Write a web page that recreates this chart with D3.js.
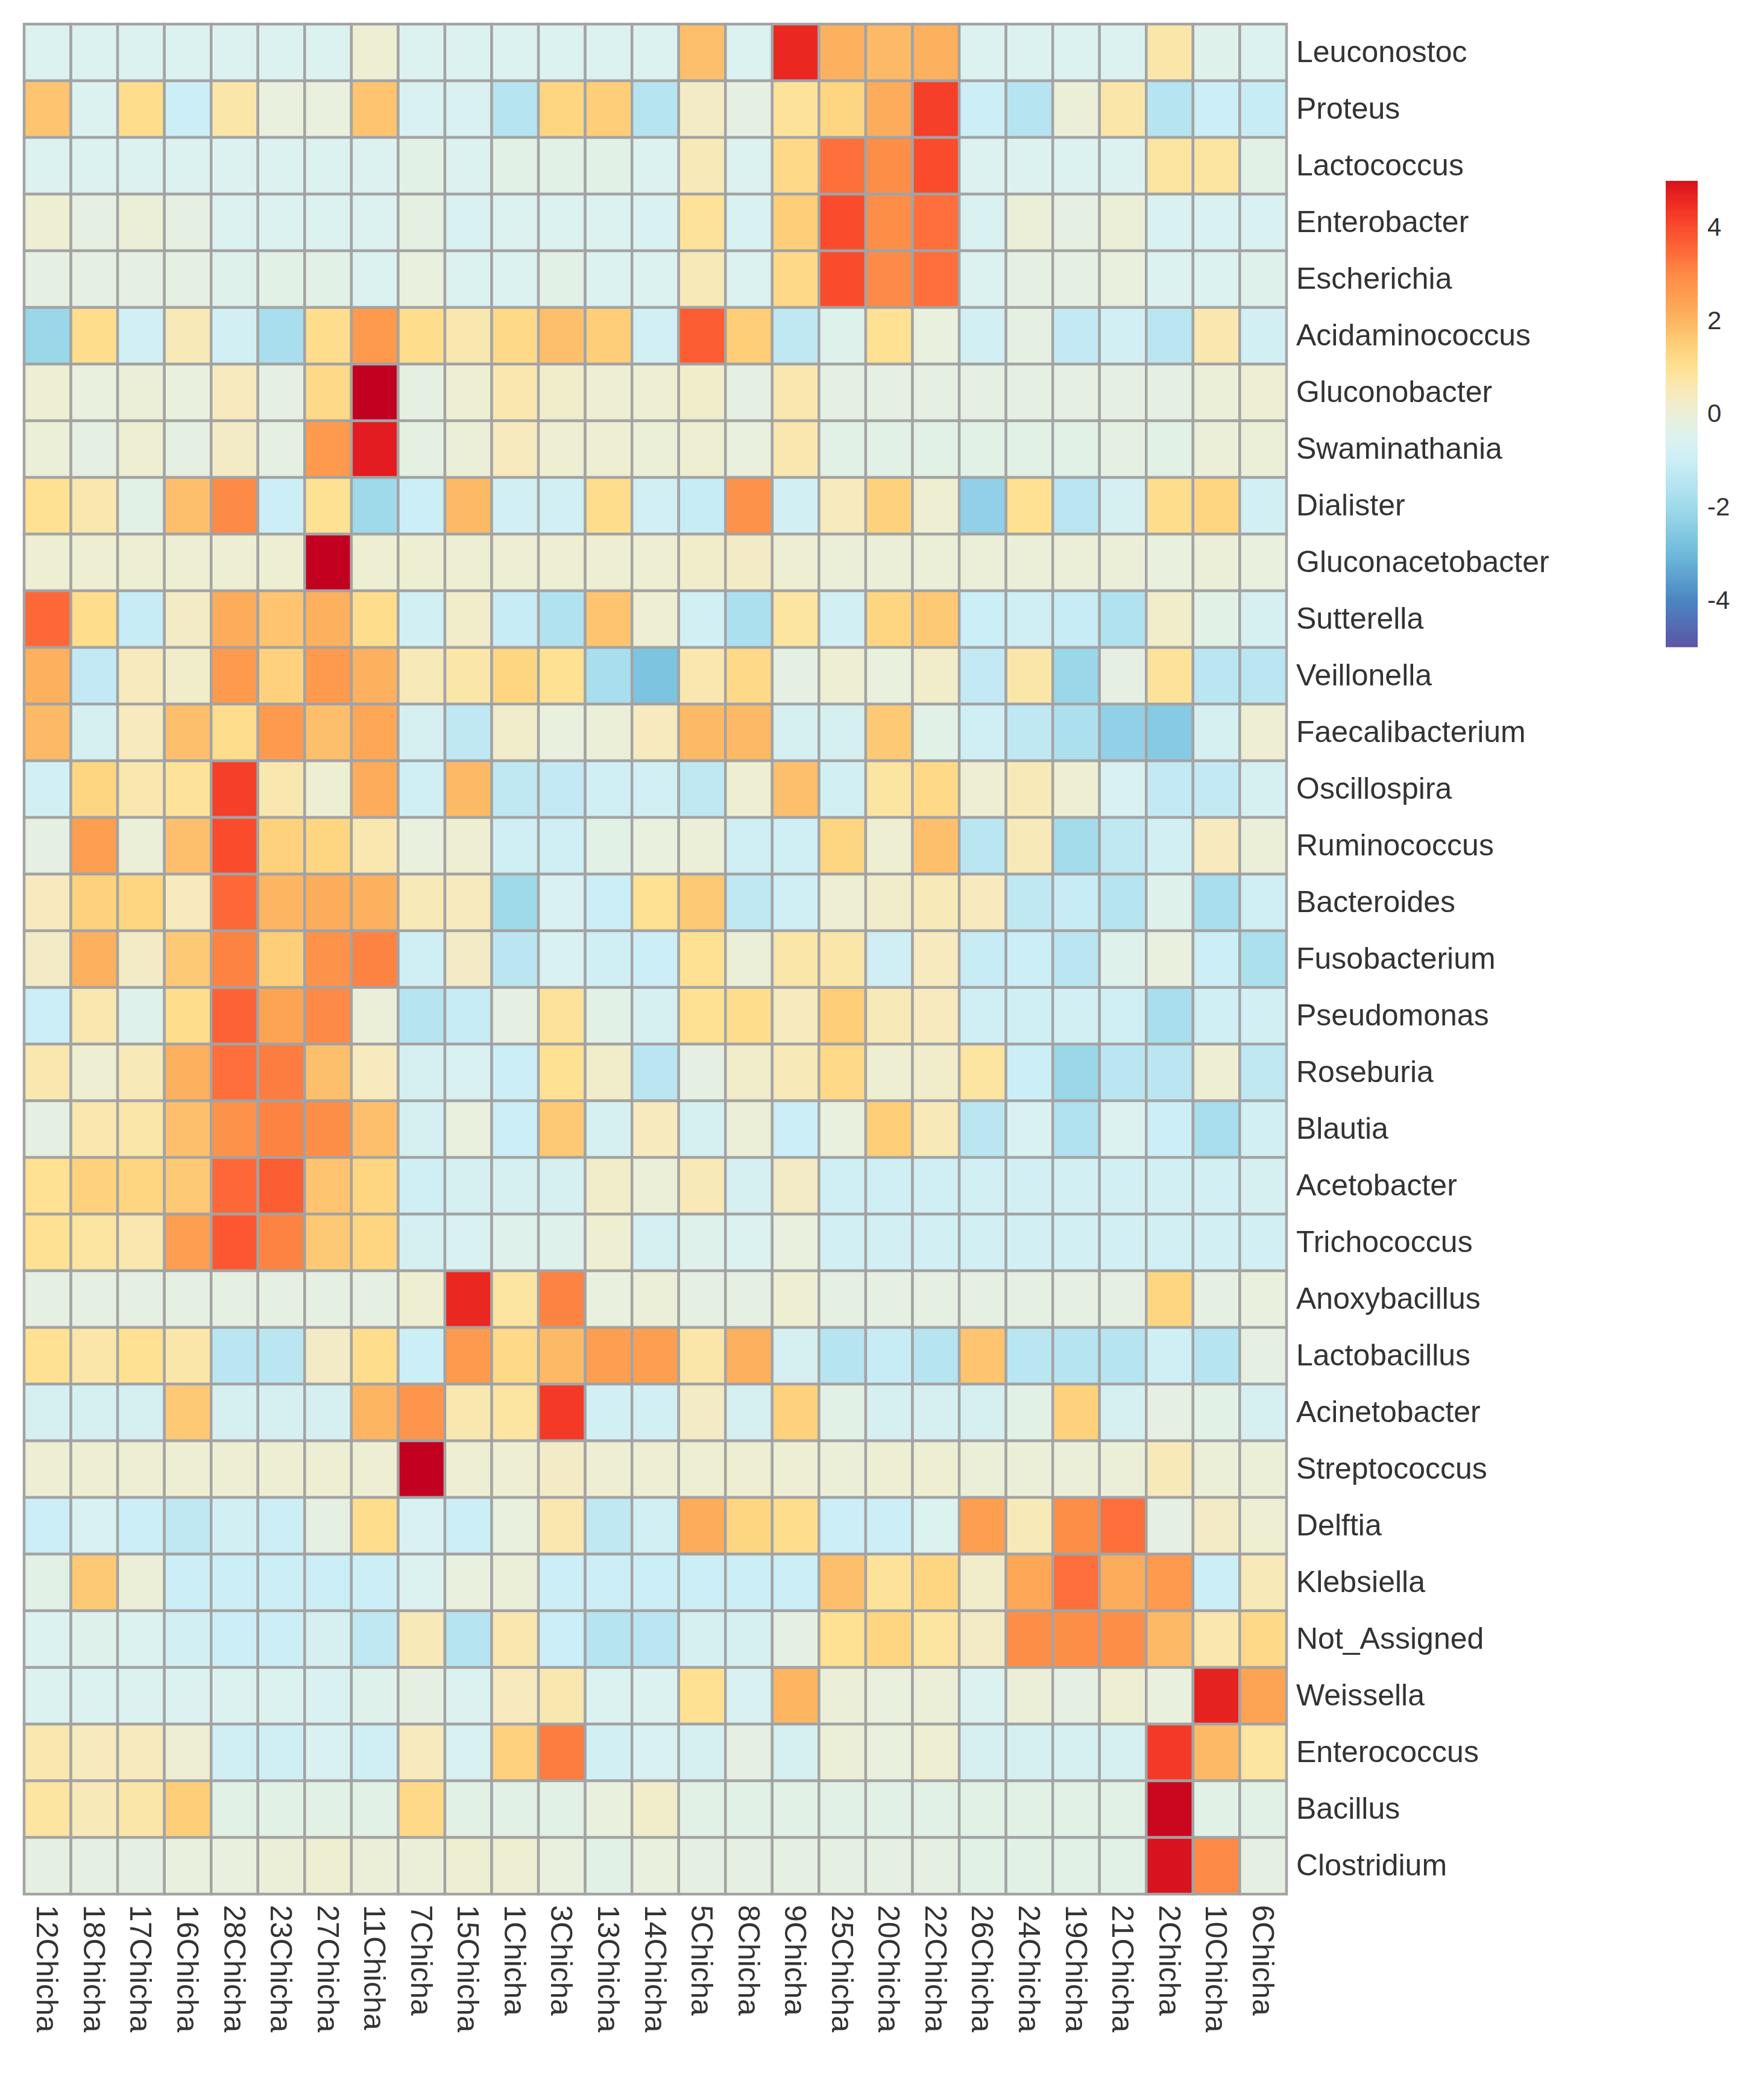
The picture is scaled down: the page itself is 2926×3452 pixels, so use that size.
<!DOCTYPE html>
<html>
<head>
<meta charset="utf-8">
<script src="https://cdn.jsdelivr.net/npm/d3@7"></script>
<style>
  body { margin: 0; background: #fff; }
  text { font-family: "Liberation Sans", Arial, sans-serif; fill: #333; }
</style>
</head>
<body>
<div id="vis"></div>
<script>
// column order (clustered samples)
const samples = ["12Chicha","18Chicha","17Chicha","16Chicha","28Chicha","23Chicha","27Chicha","11Chicha","7Chicha","15Chicha","1Chicha","3Chicha","13Chicha","14Chicha","5Chicha","8Chicha","9Chicha","25Chicha","20Chicha","22Chicha","26Chicha","24Chicha","19Chicha","21Chicha","2Chicha","10Chicha","6Chicha"];

// row order (clustered genera)
const taxa = ["Leuconostoc","Proteus","Lactococcus","Enterobacter","Escherichia","Acidaminococcus","Gluconobacter","Swaminathania","Dialister","Gluconacetobacter","Sutterella","Veillonella","Faecalibacterium","Oscillospira","Ruminococcus","Bacteroides","Fusobacterium","Pseudomonas","Roseburia","Blautia","Acetobacter","Trichococcus","Anoxybacillus","Lactobacillus","Acinetobacter","Streptococcus","Delftia","Klebsiella","Not_Assigned","Weissella","Enterococcus","Bacillus","Clostridium"];

// scaled abundance, one row per genus, in sample order
const values = [
  [-0.5,-0.5,-0.5,-0.5,-0.5,-0.5,-0.5,0.1,-0.5,-0.5,-0.5,-0.5,-0.5,-0.5, 1.8,-0.5,4.6,2.1,1.9,2.1,-0.5,-0.5,-0.5,-0.5,0.7,-0.4,-0.5],
  [1.7,-0.5,1.1,-1.0,0.7,-0.1,-0.1,1.7,-0.6,-0.6,-1.5,1.3,1.5,-1.5, 0.3,-0.2,0.9,1.3,2.2,4.2,-1.0,-1.5,0.0,0.7,-1.5,-1.0,-1.1],
  [-0.5,-0.5,-0.5,-0.5,-0.5,-0.5,-0.5,-0.5,-0.3,-0.5,-0.3,-0.3,-0.3,-0.5, 0.5,-0.5,1.2,3.4,2.9,4.0,-0.5,-0.5,-0.5,-0.5,0.8,0.8,-0.3],
  [0.1,-0.2,0.0,-0.2,-0.5,-0.5,-0.5,-0.5,-0.2,-0.6,-0.5,-0.5,-0.5,-0.6, 0.9,-0.6,1.5,4.0,2.9,3.4,-0.6,0.0,-0.2,0.0,-0.6,-0.6,-0.6],
  [-0.2,-0.2,-0.2,-0.2,-0.4,-0.3,-0.3,-0.5,-0.1,-0.5,-0.5,-0.3,-0.5,-0.5, 0.5,-0.5,1.2,4.0,3.0,3.4,-0.5,-0.2,-0.2,-0.1,-0.5,-0.5,-0.4],
  [-2.1,1.1,-0.8,0.5,-0.8,-1.8,1.1,2.6,1.1,0.6,1.2,1.8,1.5,-0.8, 3.7,1.5,-1.3,-0.4,1.0,-0.1,-0.8,-0.2,-1.2,-0.8,-1.4,0.6,-0.8],
  [0.1,-0.1,0.0,-0.1,0.4,-0.2,1.2,5.5,-0.2,0.1,0.6,0.2,0.1,0.1, 0.2,-0.2,0.6,-0.2,-0.2,-0.2,-0.2,-0.2,-0.2,-0.2,-0.2,0.0,0.1],
  [0.0,-0.2,0.1,-0.2,0.3,-0.2,2.6,4.8,-0.2,0.0,0.4,0.1,0.1,0.0, 0.1,-0.1,0.6,-0.3,-0.3,-0.3,-0.3,-0.3,-0.3,-0.2,-0.3,0.0,0.0],
  [1.0,0.6,-0.3,1.8,3.0,-1.0,1.0,-2.0,-1.0,1.9,-0.8,-0.8,1.1,-0.8, -1.1,2.8,-0.8,0.4,1.4,0.1,-2.3,1.0,-1.4,-0.7,1.1,1.3,-0.8],
  [0.1,0.1,0.1,0.1,0.1,0.1,5.5,0.1,0.1,0.1,0.1,0.1,0.1,0.1, 0.2,0.3,0.1,0.0,0.0,0.0,0.0,0.0,0.0,0.0,-0.1,0.0,-0.1],
  [3.5,1.1,-1.1,0.3,2.2,1.7,2.1,1.1,-0.8,0.2,-1.1,-1.6,1.7,0.1, -0.8,-1.7,0.8,-0.8,1.3,1.6,-1.0,-0.9,-1.1,-1.6,0.2,-0.3,-0.7],
  [2.1,-1.2,0.4,0.2,2.6,1.4,2.6,2.1,0.5,0.7,1.3,1.0,-1.8,-2.7, 0.6,1.2,-0.2,0.1,-0.1,0.2,-1.2,0.7,-2.1,-0.2,0.9,-1.4,-1.4],
  [1.9,-0.7,0.4,1.8,1.1,2.6,1.8,2.3,-0.7,-1.3,0.2,-0.1,0.0,0.4, 1.9,1.9,-0.7,-0.7,1.6,-0.3,-0.9,-1.3,-1.7,-2.3,-2.5,-0.7,0.1],
  [-0.8,1.3,0.6,0.9,4.2,0.6,0.1,2.2,-0.9,1.9,-1.3,-1.2,-0.9,-0.8, -1.3,0.1,1.8,-0.8,0.8,1.2,0.1,0.5,0.1,-0.6,-1.2,-1.2,-0.7],
  [-0.2,2.5,0.0,1.8,4.0,1.4,1.3,0.6,-0.1,0.1,-0.9,-0.9,-0.3,-0.1, 0.0,-0.9,-0.9,1.3,0.1,1.8,-1.4,0.5,-1.9,-1.3,-0.8,0.4,0.0],
  [0.4,1.4,1.3,0.4,3.5,2.0,2.2,2.1,0.5,0.4,-2.0,-0.6,-1.0,1.0, 1.6,-1.3,-0.9,0.1,0.2,0.5,0.4,-1.3,-1.1,-1.5,-0.4,-1.8,-0.9],
  [0.3,2.1,0.3,1.6,3.1,1.5,2.8,3.1,-0.9,0.3,-1.4,-0.6,-0.9,-1.0, 1.0,0.0,0.7,0.7,-0.9,0.4,-1.1,-1.0,-1.4,-0.4,-0.1,-1.0,-1.7],
  [-1.0,0.6,-0.4,1.1,3.6,2.4,3.0,0.0,-1.5,-1.1,-0.2,0.9,-0.3,-0.7, 1.0,1.1,0.4,1.5,0.5,0.4,-0.9,-0.9,-0.8,-0.9,-1.8,-0.9,-0.8],
  [0.6,0.1,0.5,2.1,3.4,3.2,1.8,0.4,-0.7,-0.6,-1.0,1.0,0.2,-1.4, -0.2,0.2,0.5,1.2,0.1,0.2,0.8,-1.0,-2.1,-1.4,-1.4,0.1,-1.3],
  [-0.2,0.6,0.7,1.8,2.8,3.1,2.9,1.8,-0.7,-0.1,-1.0,1.6,-0.7,0.4, -0.7,0.0,-1.0,-0.1,1.5,0.5,-1.4,-0.6,-1.6,-0.5,-1.0,-1.8,-0.8],
  [1.0,1.4,1.3,1.6,3.5,3.7,1.7,1.3,-0.9,-0.7,-0.7,-0.7,0.2,0.0, 0.5,-0.7,0.3,-0.9,-0.9,-0.9,-0.8,-0.8,-0.8,-0.8,-0.8,-0.8,-0.7],
  [1.0,0.8,0.6,2.5,3.8,3.1,1.6,1.3,-0.7,-0.6,-0.4,-0.4,0.1,-0.7, -0.4,-0.5,-0.1,-0.8,-0.8,-0.8,-0.8,-0.8,-0.8,-0.8,-0.8,-0.8,-0.8],
  [-0.2,-0.2,-0.2,-0.2,-0.2,-0.2,-0.2,-0.2,0.1,4.6,0.8,3.1,-0.1,0.0, -0.2,-0.2,0.1,-0.2,-0.2,-0.2,-0.2,-0.2,-0.2,-0.2,1.3,-0.2,-0.1],
  [1.0,0.7,1.0,0.7,-1.4,-1.4,0.3,1.1,-1.0,2.6,1.2,1.9,2.5,2.5, 0.7,2.1,-0.7,-1.5,-1.1,-1.5,1.7,-1.4,-1.5,-1.5,-0.9,-1.5,-0.2],
  [-0.7,-0.7,-0.7,1.6,-0.7,-0.7,-0.7,2.0,2.7,0.6,0.8,4.3,-0.8,-0.8, 0.3,-0.7,1.4,-0.3,-0.7,-0.7,-0.7,-0.3,1.4,-0.7,-0.2,-0.3,-0.7],
  [0.1,0.1,0.1,0.1,0.1,0.1,0.1,0.1,5.5,0.1,0.1,0.3,0.1,0.1, 0.1,0.1,0.1,0.0,0.1,0.1,0.0,0.0,0.0,0.0,0.5,0.0,0.0],
  [-1.0,-0.6,-1.0,-1.3,-0.8,-1.0,-0.2,1.1,-0.6,-1.0,-0.1,0.6,-1.3,-0.8, 2.2,1.3,1.1,-1.0,-1.0,-0.5,2.5,0.5,2.9,3.4,-0.2,0.3,0.1],
  [-0.3,1.6,0.0,-1.0,-1.0,-1.0,-1.0,-1.0,-0.5,-0.1,0.0,-1.0,-1.0,-1.0, -1.0,-1.0,-1.0,1.8,0.9,1.3,0.2,2.3,3.4,2.2,2.6,-1.0,0.5],
  [-0.5,-0.4,-0.5,-0.8,-1.0,-1.0,-0.7,-1.3,0.5,-1.5,0.6,-1.0,-1.5,-1.4, -0.7,-0.7,-0.2,1.0,1.3,0.8,0.3,2.9,2.9,2.9,1.9,0.6,1.2],
  [-0.5,-0.5,-0.5,-0.5,-0.5,-0.5,-0.6,-0.4,-0.2,-0.5,0.4,0.6,-0.5,-0.5, 1.0,-0.6,2.0,0.0,-0.1,0.0,-0.5,0.0,-0.2,0.1,-0.1,4.7,2.4],
  [0.6,0.4,0.4,0.1,-0.9,-0.9,-0.6,-0.9,0.4,-0.6,1.4,3.2,-0.8,-0.6, -0.7,-0.2,-0.7,0.0,-0.1,0.1,-0.7,-0.7,-0.7,-0.7,4.3,1.9,0.8],
  [0.8,0.5,0.7,1.5,-0.3,-0.3,-0.3,-0.3,1.2,-0.3,-0.3,-0.3,-0.1,0.2, -0.3,-0.3,-0.3,-0.3,-0.3,-0.3,-0.3,-0.3,-0.3,-0.3,5.3,-0.3,-0.3],
  [-0.2,-0.2,-0.2,-0.1,-0.1,0.0,0.1,0.0,0.0,0.1,0.1,-0.1,-0.3,-0.1, -0.2,-0.2,-0.2,-0.2,-0.2,-0.2,-0.3,-0.3,-0.3,-0.3,5.0,3.0,-0.2]
];

// legend ticks
const legendTicks = [4, 2, 0, -2, -4];

////////////////////////////////////////
/////////////// Layout /////////////////
////////////////////////////////////////

const W = 2926, H = 3452;
const grid = { left: 40, top: 40, right: 2134, bottom: 3142 };

const svg = d3.select("#vis").append("svg")
  .attr("width", W).attr("height", H)
  .attr("viewBox", `0 0 ${W} ${H}`);

svg.append("rect").attr("width", W).attr("height", H).attr("fill", "#fff");

////////////////////////////////////////
/////////////// Scales /////////////////
////////////////////////////////////////

const x = d3.scaleBand().domain(samples).range([grid.left, grid.right]);
const y = d3.scaleBand().domain(taxa).range([grid.top, grid.bottom]);

const color = d3.scaleLinear()
  .domain([-5, -4, -3, -2, -1, -0.5, 0, 0.5, 1, 1.5, 2, 2.5, 3, 3.5, 4, 4.5, 5, 5.5])
  .range(["#5B55A6","#4A86C2","#6FBADB","#9FDAEB","#CCEEF6","#DCF2F0","#ECEFD8","#F8E9B8",
          "#FEE192","#FECE78","#FDB562","#FD9E50","#FD8A46","#FE6838","#FA4C2C","#F02C22",
          "#D8121E","#C20020"])
  .clamp(true);

////////////////////////////////////////
/////////////// Cells //////////////////
////////////////////////////////////////

const cells = taxa.flatMap((t, i) => samples.map((s, j) => ({ taxon: t, sample: s, v: values[i][j] })));

svg.append("g")
  .selectAll("rect")
  .data(cells)
  .join("rect")
  .attr("x", d => x(d.sample))
  .attr("y", d => y(d.taxon))
  .attr("width", x.bandwidth())
  .attr("height", y.bandwidth())
  .attr("fill", d => color(d.v))
  .attr("stroke", "#a3a3a3")
  .attr("stroke-width", 4.5);

// row labels on the right
const yAxis = svg.append("g")
  .attr("transform", `translate(${grid.right},0)`)
  .call(d3.axisRight(y).tickSize(0).tickPadding(16));
yAxis.select(".domain").remove();
yAxis.selectAll("text")
  .attr("font-size", 50)
  .style("font-family", '"Liberation Sans", Arial, sans-serif')
  .attr("fill", "#333");

// column labels, rotated, below the grid
const xAxis = svg.append("g")
  .attr("transform", `translate(0,${grid.bottom})`)
  .call(d3.axisBottom(x).tickSize(0));
xAxis.select(".domain").remove();
xAxis.selectAll("text")
  .attr("font-size", 50)
  .style("font-family", '"Liberation Sans", Arial, sans-serif')
  .attr("fill", "#333")
  .attr("text-anchor", "start")
  .attr("dy", "0.35em")
  .attr("transform", "translate(0,18) rotate(90)")
  .attr("y", 0)
  .attr("x", 0);

////////////////////////////////////////
/////////////// Legend /////////////////
////////////////////////////////////////

const legend = { x: 2763, w: 53, top: 300, bottom: 1073 };
const ly = d3.scaleLinear().domain([5, -5]).range([legend.top, legend.bottom]);
const steps = d3.range(5, -5, -0.05);

svg.append("g")
  .selectAll("rect")
  .data(steps)
  .join("rect")
  .attr("x", legend.x)
  .attr("y", d => ly(d))
  .attr("width", legend.w)
  .attr("height", ly(0) - ly(0.05) + 0.6)
  .attr("fill", d => color(d - 0.025));

// plain hyphen for negatives, as in the original legend
const lAxis = svg.append("g")
  .attr("transform", `translate(${legend.x + legend.w},0)`)
  .call(d3.axisRight(ly).tickValues(legendTicks).tickSize(0).tickPadding(16).tickFormat(d => String(d)));
lAxis.select(".domain").remove();
lAxis.selectAll("text")
  .attr("font-size", 42)
  .style("font-family", '"Liberation Sans", Arial, sans-serif')
  .attr("fill", "#333");
</script>
</body>
</html>
